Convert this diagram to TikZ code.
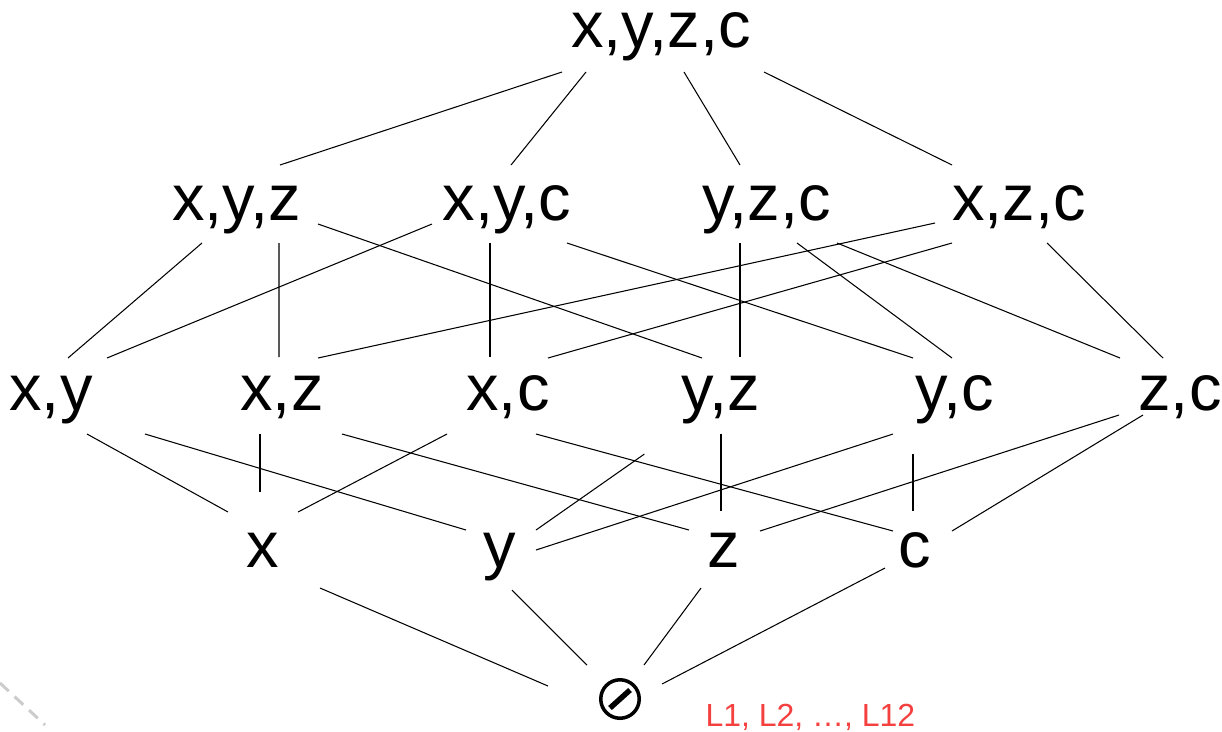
\documentclass[tikz,border=0pt]{standalone}
\usepackage{fontspec}
\newfontfamily\latticefont{Liberation Sans}
\definecolor{notered}{RGB}{245,64,64}

\begin{document}
\begin{tikzpicture}[
        x=0.02cm, y=-0.02cm,
        line width=0.6pt,
        set/.style={font=\latticefont\fontsize{37}{44}\selectfont, inner sep=0pt, anchor=base},
        nullset/.style={draw, circle, line width=2pt, minimum size=0.77cm, inner sep=0pt},
        note/.style={font=\latticefont\fontsize{18.2}{22}\selectfont, text=notered, inner sep=0pt, anchor=base west}
    ]
    \useasboundingbox (0,0) rectangle (1222,731);

    % top
    \node[set] (xyzc) at (661,47) {x,y,z,c};
    % three elements
    \node[set] (xyz) at (236.5,220) {x,y,z};
    \node[set] (xyc) at (507,220) {x,y,c};
    \node[set] (yzc) at (766.5,220) {y,z,c};
    \node[set] (xzc) at (1019,220) {x,z,c};
    % two elements
    \node[set] (xy) at (51,410) {x,y};
    \node[set] (xz) at (282,410) {x,z};
    \node[set] (xc) at (508,410) {x,c};
    \node[set] (yz) at (721,410) {y,z};
    \node[set] (yc) at (955,410) {y,c};
    \node[set] (zc) at (1180,410) {z,c};
    % one element
    \node[set] (x) at (263,567) {x};
    \node[set] (y) at (500,567) {y};
    \node[set] (z) at (724,567) {z};
    \node[set] (c) at (915,567) {c};
    % bottom
    \node[nullset] (empty) at (620,699) {};
    \draw[line width=3.1pt] ([shift={(-10,9)}]empty.center) -- ([shift={(10,-9)}]empty.center);
    \node[note] (lists) at (705,726) {L1, L2, \dots, L12};

    \draw ([shift={(-99,25)}]xyzc.base) -- ([shift={(43.5,-55)}]xyz.base);
    \draw ([shift={(-75,25)}]xyzc.base) -- ([shift={(4,-55)}]xyc.base);
    \draw ([shift={(23,25)}]xyzc.base) -- ([shift={(-26.5,-55)}]yzc.base);
    \draw ([shift={(103,25)}]xyzc.base) -- ([shift={(-67,-55)}]xzc.base);

    \draw ([shift={(-34.5,23)}]xyz.base) -- ([shift={(17,-52)}]xy.base);
    \draw ([shift={(42.5,23)}]xyz.base) -- ([shift={(-3,-53)}]xz.base);
    \draw ([shift={(81.5,4)}]xyz.base) -- ([shift={(-19,-52)}]yz.base);
    \draw ([shift={(-75,4)}]xyc.base) -- ([shift={(56,-52)}]xy.base);
    \draw ([shift={(-17,23)}]xyc.base) -- ([shift={(-18,-53)}]xc.base);
    \draw ([shift={(60,23)}]xyc.base) -- ([shift={(-42,-52)}]yc.base);
    \draw ([shift={(-26.5,23)}]yzc.base) -- ([shift={(19,-53)}]yz.base);
    \draw ([shift={(30.5,23)}]yzc.base) -- ([shift={(-3,-52)}]yc.base);
    \draw ([shift={(70.5,23)}]yzc.base) -- ([shift={(-60,-52)}]zc.base);
    \draw ([shift={(-84,3)}]xzc.base) -- ([shift={(36,-52)}]xz.base);
    \draw ([shift={(-67,23)}]xzc.base) -- ([shift={(40,-52)}]xc.base);
    \draw ([shift={(28,23)}]xzc.base) -- ([shift={(-17,-52)}]zc.base);

    \draw ([shift={(36,24)}]xy.base) -- ([shift={(-35,-55)}]x.base);
    \draw ([shift={(94,24)}]xy.base) -- ([shift={(-34,-37)}]y.base);
    \draw ([shift={(-22,24)}]xz.base) -- ([shift={(-3,-75)}]x.base);
    \draw ([shift={(60,24)}]xz.base) -- ([shift={(-35,-37)}]z.base);
    \draw ([shift={(-61,24)}]xc.base) -- ([shift={(35,-55)}]x.base);
    \draw ([shift={(28,24)}]xc.base) -- ([shift={(-22,-36)}]c.base);
    \draw[shorten <=0.7cm] ([shift={(-48,24)}]yz.base) -- ([shift={(36,-37)}]y.base);
    \draw ([shift={(0,24)}]yz.base) -- ([shift={(-3,-56)}]z.base);
    \draw ([shift={(-62,24)}]yc.base) -- ([shift={(36,-17)}]y.base);
    \draw ([shift={(-42,44)}]yc.base) -- ([shift={(-2,-56)}]c.base);
    \draw ([shift={(-61,5)}]zc.base) -- ([shift={(36,-36)}]z.base);
    \draw ([shift={(-37,5)}]zc.base) -- ([shift={(37,-36)}]c.base);

    \draw ([shift={(57,21)}]x.base) -- ([shift={(-72,-13)}]empty.center);
    \draw ([shift={(12,23)}]y.base) -- ([shift={(-33,-34)}]empty.center);
    \draw ([shift={(-23,21)}]z.base) -- ([shift={(24,-34)}]empty.center);
    \draw ([shift={(-30,1)}]c.base) -- ([shift={(42,-15)}]empty.center);

    % faint mark at the lower left
    \draw[gray!40, line width=1.7pt, dash pattern=on 6.8pt off 4.5pt] (0,683) -- (45,725);
\end{tikzpicture}
\end{document}
